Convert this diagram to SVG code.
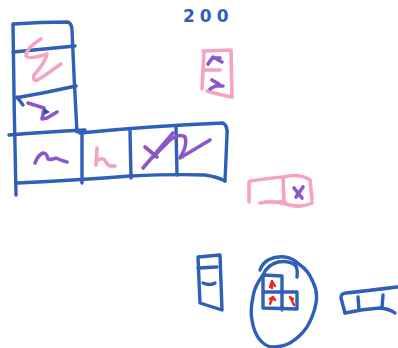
<svg xmlns="http://www.w3.org/2000/svg" width="398" height="348" viewBox="0 0 398 348">
<style>
.b{fill:none;stroke:#2f5fb8;stroke-width:3.4;stroke-linecap:round;stroke-linejoin:round}
.p{fill:none;stroke:#f5a3c4;stroke-width:3.6;stroke-linecap:round;stroke-linejoin:round}
.v{fill:none;stroke:#8b57c9;stroke-width:3.6;stroke-linecap:round;stroke-linejoin:round}
.r{fill:none;stroke:#e8282a;stroke-width:2.4;stroke-linecap:round;stroke-linejoin:round}
</style>
<rect width="398" height="348" fill="#fff"/>
<g id="tower">
<path class="b" d="M13,25 Q14,110 16,195"/>
<path class="b" d="M13,24 Q40,22 68,22 Q72,24 72,30 Q74,80 77,132"/>
<path class="b" d="M13,52 L75,46"/>
<path class="b" d="M15,98 Q45,93 76,86"/>
<path class="b" d="M17,97 L23,105"/>
<path class="b" d="M9,135 Q45,132 85,130"/>
<path class="p" d="M41,39 Q26,48 26,56 Q28,60 47,54 Q45,63 34,75 Q32,84 41,78 L61,64"/>
<path class="v" d="M28,103 L44,108 Q43,115 42,119 L47,118 L57,112"/>
<path d="M44,108 L50,112 L44,115 Z" fill="#2f4fa0"/>
</g>
<g id="row">
<path class="b" d="M80,133 Q150,126 223,123 Q228,126 227,135 Q226,160 225,181"/>
<path class="b" d="M17,183 Q80,180 130,176 Q175,174 205,175 Q218,177 225,181"/>
<path class="b" d="M82,133 L82,183"/>
<path class="b" d="M130,131 L131,178"/>
<path class="b" d="M176,126 L177,175"/>
<path class="v" d="M35,163 Q38,155 43,153 Q47,153 48,159 Q52,160 56,158 Q60,160 67,162"/>
<path class="p" d="M97,148 L96,165 M98,160 Q104,157 106,162 Q108,167 115,166"/>
<path class="v" d="M143,168 L173,133 M145,147 L157,157"/>
<path class="v" d="M153,157 L170,140 Q180,133 185,137 Q188,145 180,158 L210,140"/>
</g>
<g id="label">
<text x="183" y="22" font-family="DejaVu Sans, sans-serif" font-weight="bold" font-size="17" letter-spacing="5" fill="#2f5fb8">200</text>
</g>
<g id="pinkbox1">
<path class="p" d="M204,52 L202,89"/>
<path class="p" d="M203,51 L231,50 L232,97"/>
<path class="p" d="M207,91 Q220,95 232,97"/>
<path class="p" d="M203,70 L220,70"/>
<path class="v" d="M208,64 L213,57 L222,62 M213,58 L220,58"/>
<path class="v" d="M212,80 L219,84 L210,89 M216,86 L223,86"/>
</g>
<g id="pinkbox2">
<path class="p" d="M249,182 L249,202"/>
<path class="p" d="M250,181 Q270,178 283,177 Q300,173 310,180 L312,200"/>
<path class="p" d="M260,203 Q273,200 290,205 Q302,208 312,203"/>
<path class="p" d="M283,177 L284,202 M276,202 L285,202"/>
<path class="v" d="M294,188 L302,198 M303,187 L296,197"/>
</g>
<g id="smallbox">
<path class="b" d="M198,257 L200,303 L222,310 L220,255 L198,257"/>
<path class="b" d="M198,268 L217,267"/>
<path class="b" d="M203,283 Q210,286 215,283"/>
</g>
<g id="egg">
<path class="b" d="M297,277 Q298,268 295,265 Q288,260 278,262 Q267,265 263,275 Q254,287 253,297 Q250,310 252,320 Q254,333 260,340 Q266,347 273,347 Q282,347 290,343 Q300,337 307,327 Q314,315 316,303 Q318,292 313,282 Q308,270 300,265 Q293,258 285,257 Q276,256 268,260 Q262,264 260,270"/>
<path class="b" d="M263,275 L282,276 L282,310 M263,275 L263,308 L297,309 L297,292 L263,292"/>
<path class="r" d="M270,287 L272,281 L275,286 M272,281 L272,288"/>
<path class="r" d="M270,304 L273,297 M270,299 L273,297 L275,300"/>
<path class="r" d="M290,297 L294,305 M290,297 L293,299"/>
</g>
<g id="bench">
<path class="b" d="M345,313 L341,298 Q341,293 346,293 Q365,291 397,287"/>
<path class="b" d="M345,313 Q363,309 380,308 Q390,309 395,313"/>
<path class="b" d="M358,297 L359,310 M383,295 L382,308"/>
</g>
</svg>
